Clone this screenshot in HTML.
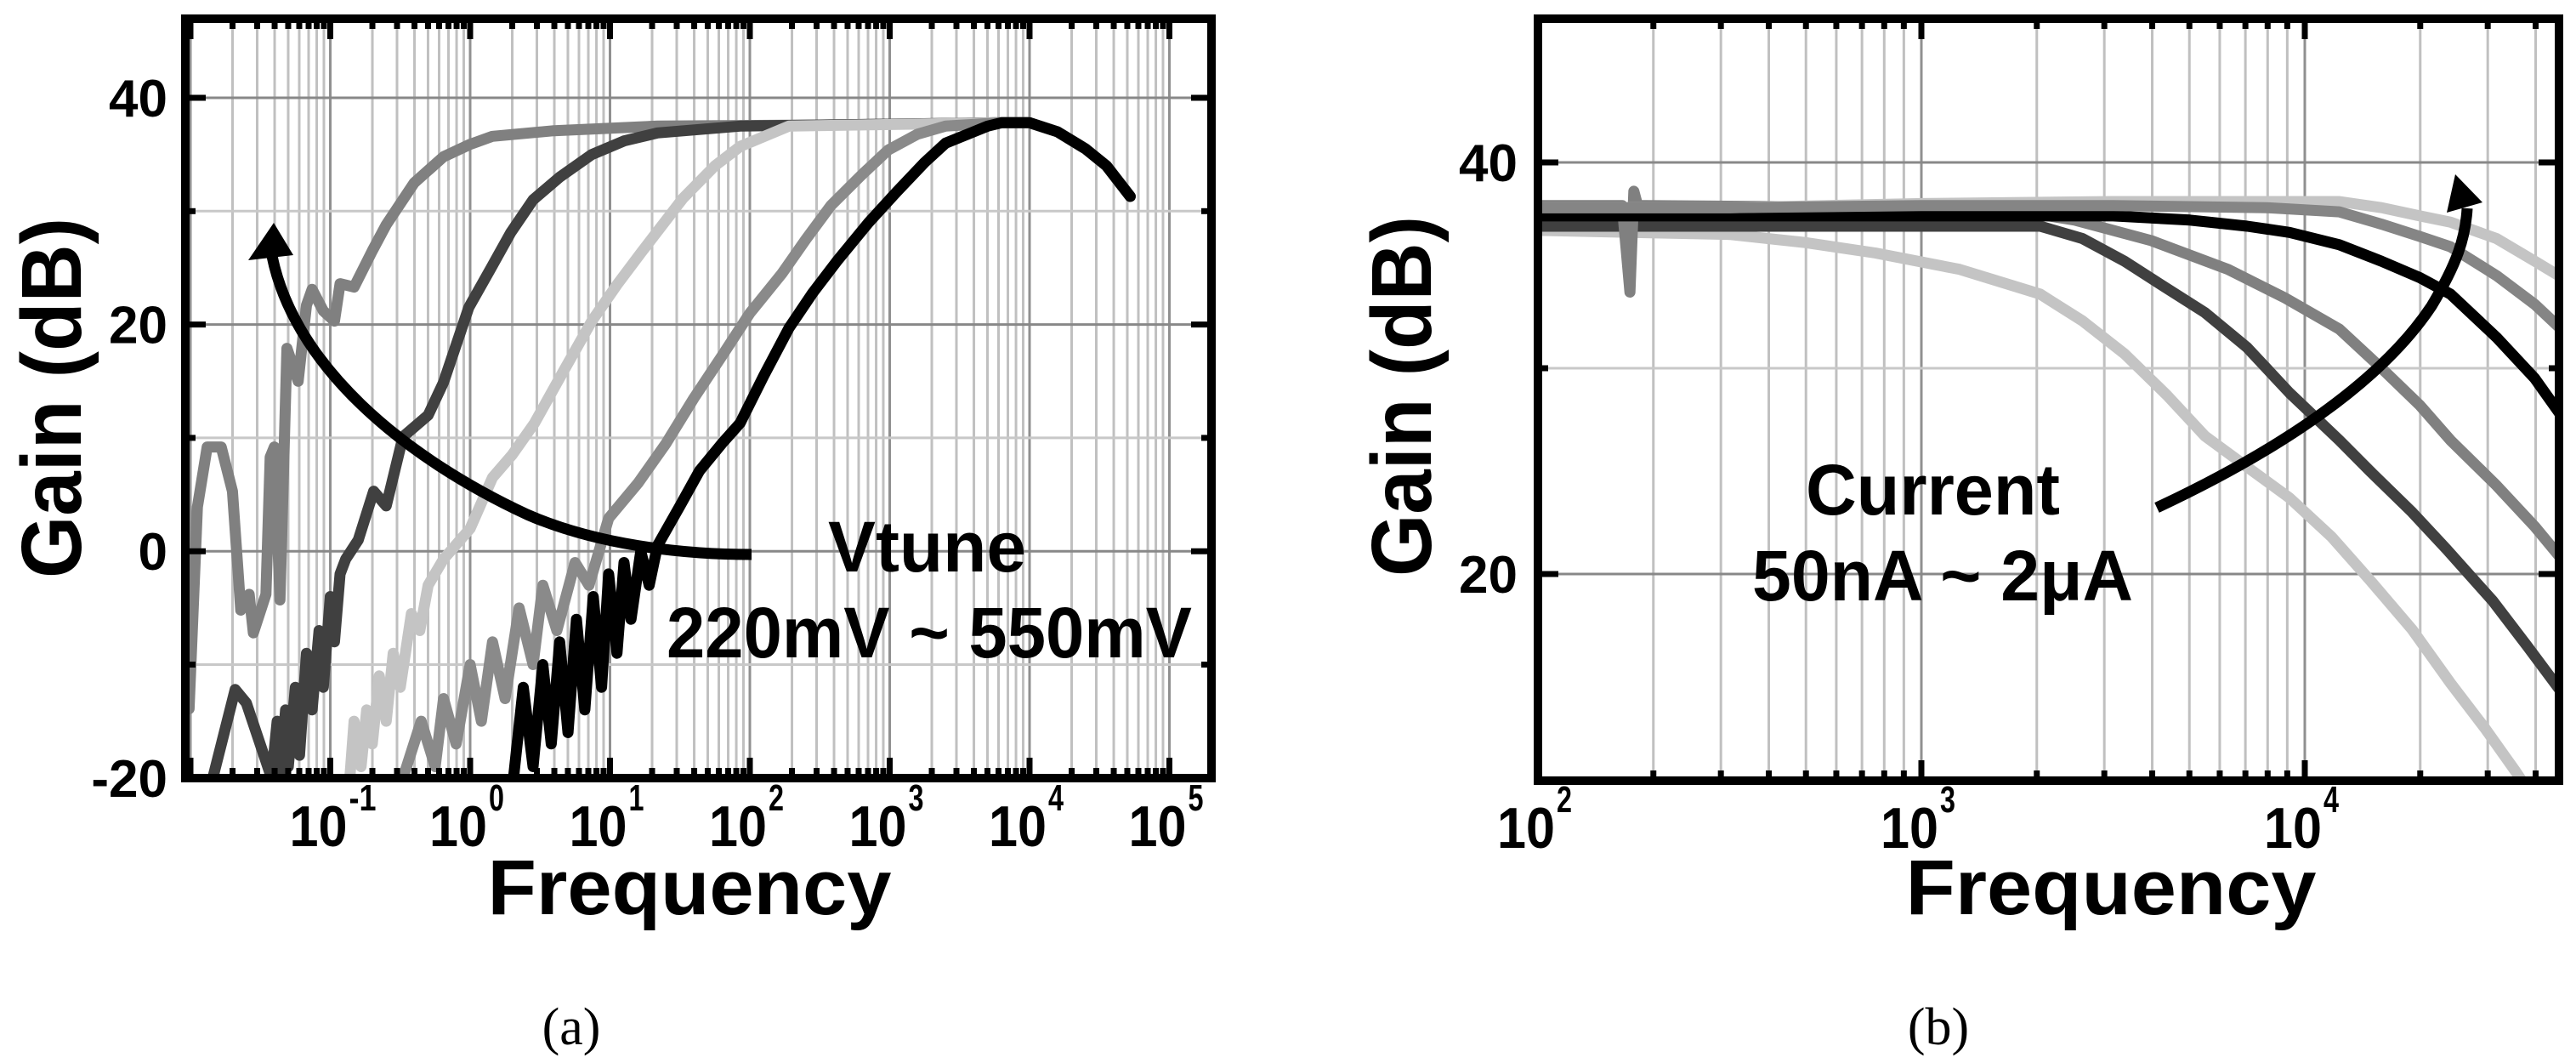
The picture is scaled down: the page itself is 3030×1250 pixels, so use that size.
<!DOCTYPE html>
<html><head><meta charset="utf-8"><style>
html,body{margin:0;padding:0;background:#fff;}
svg{display:block;}
text{font-family:"Liberation Sans",sans-serif;font-weight:bold;fill:#000;}
</style></head><body>
<svg id="fig" width="3030" height="1250" viewBox="0 0 3030 1250" xmlns="http://www.w3.org/2000/svg">
<defs>
<clipPath id="clipA"><rect x="218" y="22" width="1207" height="893"/></clipPath>
<clipPath id="clipB"><rect x="1809" y="22" width="1201" height="896"/></clipPath>
</defs>
<g id="panelA">
<g id="gridA"></g>
<g id="curvesA" clip-path="url(#clipA)"></g>
<g id="ticksA"></g>
<rect x="218" y="22" width="1207" height="893" fill="none" stroke="#000" stroke-width="10"/>
<path d="M884,652 C800,652 700,640 620,605 C480,540 340,430 318,290" fill="none" stroke="#000" stroke-width="13"/>
<polygon points="322,262 292,306 345,300" fill="#000"/>
<text x="974" y="672" font-size="84" textLength="233" lengthAdjust="spacingAndGlyphs">Vtune</text>
<text x="784" y="773" font-size="84" textLength="618" lengthAdjust="spacingAndGlyphs">220mV ~ 550mV</text>
<text transform="translate(95,468) rotate(-90)" text-anchor="middle" font-size="100" textLength="424" lengthAdjust="spacingAndGlyphs">Gain (dB)</text>
<text x="811" y="1075" text-anchor="middle" font-size="92" textLength="475" lengthAdjust="spacingAndGlyphs">Frequency</text>
<text x="672" y="1228" text-anchor="middle" font-size="62" style="font-family:'Liberation Serif',serif;font-weight:normal">(a)</text>
</g>
<g id="panelB">
<g id="gridB"></g>
<g id="curvesB" clip-path="url(#clipB)"></g>
<g id="ticksB"></g>
<rect x="1809" y="22" width="1201" height="896" fill="none" stroke="#000" stroke-width="10"/>
<path d="M2537,597 C2680,530 2800,450 2860,360 C2890,310 2900,280 2902,245" fill="none" stroke="#000" stroke-width="13"/>
<polygon points="2888,205 2878,250 2920,238" fill="#000"/>
<text x="2124" y="605" font-size="84" textLength="299" lengthAdjust="spacingAndGlyphs">Current</text>
<text x="2061" y="706" font-size="84" textLength="448" lengthAdjust="spacingAndGlyphs">50nA ~ 2μA</text>
<text transform="translate(1683,466) rotate(-90)" text-anchor="middle" font-size="100" textLength="424" lengthAdjust="spacingAndGlyphs">Gain (dB)</text>
<text x="2483" y="1075" text-anchor="middle" font-size="92" textLength="483" lengthAdjust="spacingAndGlyphs">Frequency</text>
<text x="2280" y="1228" text-anchor="middle" font-size="62" style="font-family:'Liberation Serif',serif;font-weight:normal">(b)</text>
</g>
</svg>
<script>
// ---- Panel (a) data: log10(frequency) and gain (dB) ----
const aYTicks = [40, 20, 0, -20];
const aXDecades = [-1, 0, 1, 2, 3, 4, 5];
const a1X = [-2.01,-1.95,-1.88,-1.78,-1.70,-1.64,-1.58,-1.55,-1.46,-1.43,-1.40,-1.36,-1.31,-1.23,-1.17,-1.13,-1.05,-0.97,-0.93,-0.83,-0.70,-0.60,-0.40,-0.19,0.0,0.16,0.6,1.34,2.5,3.8,4.0,4.2,4.4,4.55,4.72];
const a1Y = [-13.9,3.9,9.2,9.2,5.3,-5.2,-3.8,-7.2,-3.8,8.3,9.2,-4.3,17.9,15,21.7,23.1,21.2,20.3,23.6,23.3,26.5,28.8,32.5,34.8,35.9,36.6,37.1,37.5,37.6,37.8,37.8,37,35.5,34,31.3];
const a2X = [-1.84,-1.68,-1.60,-1.42,-1.38,-1.36,-1.32,-1.30,-1.25,-1.22,-1.17,-1.13,-1.08,-1.05,-1.0,-0.97,-0.93,-0.89,-0.80,-0.69,-0.60,-0.48,-0.30,-0.19,-0.01,0.15,0.29,0.45,0.64,0.87,1.1,1.34,1.93,3.8,4.0,4.2,4.4,4.55,4.72];
const a2Y = [-20,-12.2,-13.4,-20,-15,-20,-14,-19,-12,-18,-9,-14,-7,-12,-4,-8,-2,-0.7,1,5.3,4,10.1,12,14.9,21.5,25,28.1,31,33,35,36.2,36.9,37.5,37.8,37.8,37,35.5,34,31.3];
const a3X = [-0.86,-0.83,-0.78,-0.74,-0.70,-0.65,-0.60,-0.55,-0.50,-0.42,-0.36,-0.30,-0.19,0.0,0.16,0.3,0.46,0.65,0.87,1.05,1.22,1.52,1.75,1.93,2.28,3.8,4.0,4.2,4.4,4.55,4.72];
const a3Y = [-20,-15,-19,-14,-17,-11,-15,-9,-12,-5.5,-7,-3,-0.7,2,6.5,8.5,11.3,15.5,20.3,23.5,26.3,31.1,34,35.7,37.5,37.8,37.8,37,35.5,34,31.3];
const a4X = [-0.48,-0.35,-0.25,-0.19,-0.1,0.0,0.08,0.16,0.25,0.35,0.45,0.52,0.62,0.75,0.85,0.99,1.2,1.40,1.6,1.81,2.0,2.23,2.4,2.58,2.8,2.99,3.2,3.40,3.8,4.0,4.2,4.4,4.55,4.72];
const a4Y = [-20,-15,-19,-13,-17,-10,-15,-8,-13,-5,-10,-3,-7,-1,-3,2.9,6,9.5,13.5,17.4,21,24.5,27.5,30.5,33.2,35.4,36.8,37.5,37.8,37.8,37,35.5,34,31.3];
const a5X = [0.31,0.38,0.45,0.52,0.58,0.64,0.70,0.76,0.82,0.88,0.94,0.99,1.05,1.10,1.15,1.22,1.28,1.34,1.50,1.64,1.80,1.93,2.1,2.28,2.45,2.63,2.85,3.05,3.25,3.40,3.70,3.8,4.0,4.2,4.4,4.55,4.72];
const a5Y = [-20,-12,-19,-10,-17,-8,-16,-6,-14,-4,-12,-2,-9,-1,-6,0,-3,0.5,4,7.1,9.5,11.3,15.5,19.7,22.8,25.7,29,31.7,34.3,36,37.5,37.8,37.8,37,35.5,34,31.3];
const aColors = ['#808080','#404040','#c4c4c4','#8a8a8a','#000000'];

// ---- Panel (b) data ----
const bYTicks = [40, 20];
const bXDecades = [2, 3, 4];
const b1X = [2,2.5,2.7,2.88,3.1,3.31,3.42,3.53,3.64,3.74,3.85,3.96,4.07,4.17,4.28,4.38,4.47,4.55,4.6];
const b1Y = [36.7,36.5,36.1,35.6,34.8,33.6,32.3,30.7,28.7,26.7,25.2,23.7,21.8,19.7,17.3,14.7,12.5,10.4,9];
const b2X = [2,2.5,3.0,3.31,3.42,3.53,3.63,3.74,3.85,3.96,4.09,4.17,4.28,4.37,4.49,4.58,4.68];
const b2Y = [36.9,36.9,36.9,36.9,36.3,35.2,34,32.7,31.0,28.8,26.5,25.0,23,21.2,18.7,16.5,14];
const b3X = [2,2.22,2.24,2.25,2.26,2.28,3.0,3.2,3.4,3.6,3.8,3.95,4.09,4.2,4.3,4.38,4.5,4.6,4.68];
const b3Y = [37.9,37.9,33.7,38.6,37.9,37.9,37.8,37.8,37.2,36.2,34.8,33.4,31.9,30,28.2,26.5,24.3,22.3,20.5];
const b4X = [2,2.5,3.0,3.5,3.7,3.85,3.96,4.09,4.2,4.3,4.38,4.5,4.6,4.68];
const b4Y = [37.4,37.4,37.4,37.4,37.2,36.9,36.6,36.0,35.2,34.4,33.6,31.5,29.5,27.4];
const b5X = [2,2.5,3.0,3.5,4.09,4.2,4.3,4.38,4.5,4.6,4.68];
const b5Y = [37.8,37.8,38.0,38.1,38.1,37.8,37.4,37.1,36.3,35.2,34.3];
const b6X = [2,2.5,3.0,3.5,3.9,4.09,4.2,4.3,4.38,4.5,4.6,4.68];
const b6Y = [37.8,37.8,37.9,37.9,37.8,37.6,37.0,36.4,35.9,34.5,33.1,31.7];
const bColors = ['#c4c4c4','#404040','#808080','#000000','#c4c4c4','#858585'];

const NS = 'http://www.w3.org/2000/svg';
function xA(l){return 388.5 + (l + 1) * 164.5;}
function yA(d){return 115 + (40 - d) * 13.33;}
function xB(l){return 1809 + (l - 2) * 451;}
function yB(d){return 191 + (40 - d) * 24.2;}
function mk(tag, attrs, parent){const e=document.createElementNS(NS,tag);for(const k in attrs)e.setAttribute(k,attrs[k]);parent.appendChild(e);return e;}

function drawGrid(g, tg, xf, yf, lmin, lmax, x0, x1, y0, y1, dbs, majors){
  for(let d=Math.floor(lmin); d<=Math.ceil(lmax); d++){
    for(let m=1;m<=9;m++){
      const l=d+Math.log10(m); if(l<=lmin||l>=lmax) continue;
      const x=xf(l);
      const ln=mk('line',{x1:x,x2:x,y1:y0,y2:y1,stroke:m===1?'#909090':'#c0c0c0','stroke-width':3},g);
      
      
      const len=m===1?24:12;
      const t1=mk('line',{x1:x,x2:x,y1:y1,y2:y1-len,stroke:'#000','stroke-width':7},tg);
      
      
      const t2=mk('line',{x1:x,x2:x,y1:y0,y2:y0+len,stroke:'#000','stroke-width':7},tg);
      
      
    }
  }
  dbs.forEach(v=>{
    const y=yf(v); if(y<=y0+2||y>=y1-2) return;
    const maj=majors.includes(v);
    const ln=mk('line',{x1:x0,x2:x1,y1:y,y2:y,stroke:maj?'#888':'#c8c8c8','stroke-width':3},g);
    
    
    const len=maj?24:12;
    const t1=mk('line',{x1:x0,x2:x0+len,y1:y,y2:y,stroke:'#000','stroke-width':7},tg);
    
    
    const t2=mk('line',{x1:x1,x2:x1-len,y1:y,y2:y,stroke:'#000','stroke-width':7},tg);
    
    
  });
}
function drawCurves(g, xf, yf, xs, ys, colors){
  xs.forEach((X,i)=>{
    const Y=ys[i];
    const pts=X.map((v,j)=>xf(v).toFixed(1)+','+yf(Y[j]).toFixed(1)).join(' ');
    const p=mk('polyline',{points:pts,fill:'none',stroke:colors[i],'stroke-width':13,'stroke-linejoin':'round','stroke-linecap':'round'},g);
    
    
  });
}
function yLabels(tg, yf, ticks, xr){
  ticks.forEach(v=>{
    const t=mk('text',{x:xr,y:yf(v)+22,'text-anchor':'end','font-size':62},tg);
    t.textContent=String(v);
    
    
  });
}
function xLabels(tg, xf, decs, yb){
  decs.forEach(d=>{
    const x=xf(d);
    const t=mk('text',{x:x-14,y:yb,'text-anchor':'middle','font-size':68,textLength:68,lengthAdjust:'spacingAndGlyphs'},tg);
    t.textContent='10';
    
    
    const s=mk('text',{x:x+22,y:yb-42,'font-size':44,textLength:(String(d).length>1?32:18),lengthAdjust:'spacingAndGlyphs'},tg);
    s.textContent=String(d);
    
    
  });
}
const gA=document.getElementById('gridA'), tA=document.getElementById('ticksA'), cA=document.getElementById('curvesA');
drawGrid(gA,tA,xA,yA,-2.036,5.30,218,1425,22,915,[40,30,20,10,0,-10,-20],aYTicks);
drawCurves(cA,xA,yA,[a1X,a2X,a3X,a4X,a5X],[a1Y,a2Y,a3Y,a4Y,a5Y],aColors);
yLabels(tA,yA,aYTicks,197);
xLabels(tA,xA,aXDecades,995);
const gB=document.getElementById('gridB'), tB=document.getElementById('ticksB'), cB=document.getElementById('curvesB');
drawGrid(gB,tB,xB,yB,2,4.663,1809,3010,22,918,[40,30,20,10],[40,20]);
drawCurves(cB,xB,yB,[b1X,b2X,b3X,b4X,b5X,b6X],[b1Y,b2Y,b3Y,b4Y,b5Y,b6Y],bColors);
yLabels(tB,yB,bYTicks,1785);
xLabels(tB,xB,bXDecades,997);
</script>
</body></html>
